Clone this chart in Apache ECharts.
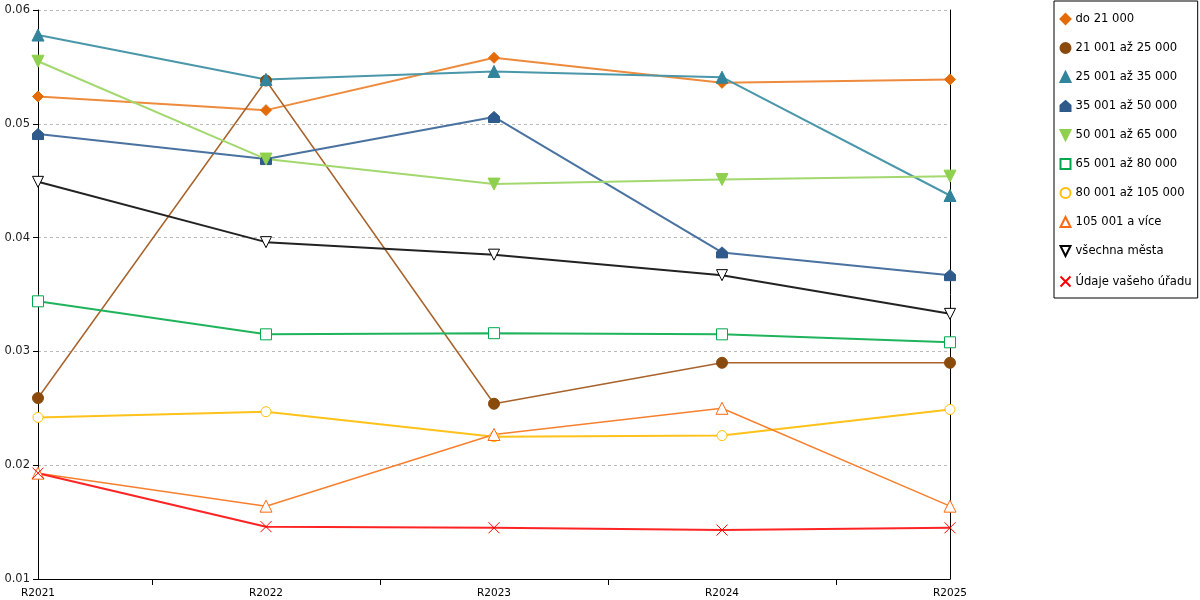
<!DOCTYPE html>
<html>
<head>
<meta charset="utf-8">
<script src="https://cdn.jsdelivr.net/npm/echarts@6/dist/echarts.min.js"></script>
<style>
  html, body { margin: 0; padding: 0; background: #fff; }
  #chart { width: 1200px; height: 600px; }
</style>
</head>
<body>
<div id="chart"></div>
<script>
var years = ['R2021', 'R2022', 'R2023', 'R2024', 'R2025'];
var midTicks = ['', '', '', '', '', '', '', '', ''];

var names = [
    'do 21 000',
    '21 001 až 25 000',
    '25 001 až 35 000',
    '35 001 až 50 000',
    '50 001 až 65 000',
    '65 001 až 80 000',
    '80 001 až 105 000',
    '105 001 a více',
    'všechna města',
    'Údaje vašeho úřadu'
];

var do21 = [0.0524, 0.0512, 0.0558, 0.0536, 0.0539];
var do25 = [0.0259, 0.0538, 0.0254, 0.0290, 0.0290];
var do35 = [0.0578, 0.0539, 0.0546, 0.0541, 0.0437];
var do50 = [0.0491, 0.0469, 0.0506, 0.0387, 0.0367];
var do65 = [0.0555, 0.0469, 0.0447, 0.0451, 0.0454];
var do80 = [0.0344, 0.0315, 0.0316, 0.0315, 0.0308];
var do105 = [0.0242, 0.0247, 0.0225, 0.0226, 0.0249];
var nad105 = [0.0193, 0.0164, 0.0227, 0.0250, 0.0164];
var vsechna = [0.0449, 0.0396, 0.0385, 0.0367, 0.0333];
var urad = [0.0193, 0.0146, 0.0145, 0.0143, 0.0145];

var downTri = 'path://M0,0L10,0L5,10Z';
var house = 'path://M5,0L10,4.5L10,10L0,10L0,4.5Z';
var cross = 'path://M0,0L10,10M10,0L0,10';

// symbol, fill, border, line colour, line width, size, values
var looks = [
    ['diamond', '#e36c09', '#e36c09', '#ee8a3c', 2, 11, do21],
    ['circle', '#8a4a0c', '#8a4a0c', '#a8622b', 1.5, 11, do25],
    ['triangle', '#31849b', '#31849b', '#4a97aa', 2, 12, do35],
    [house, '#2f5b8c', '#2f5b8c', '#4a72a0', 2, 11, do50],
    [downTri, '#8fd14f', '#8fd14f', '#a3d86f', 2, 12, do65],
    ['rect', '#fff', '#00a850', '#1fb35c', 2, 11, do80],
    ['circle', '#fff', '#ffc000', '#ffc21a', 2, 10, do105],
    ['triangle', '#fff', '#ff6a10', '#f7802e', 1.5, 12, nad105],
    [downTri, '#fff', '#000', '#222', 2, 11, vsechna],
    [cross, 'none', '#ff0000', '#ff2424', 2, 11, urad]
];

var series = looks.map(function (l, i) {
    return {
        name: names[i],
        type: 'line',
        data: l[6],
        symbol: l[0],
        symbolSize: l[5],
        showSymbol: true,
        itemStyle: {
            color: l[1],
            borderColor: l[2],
            borderWidth: 1
        },
        lineStyle: {
            color: l[3],
            width: l[4]
        },
        emphasis: { disabled: true }
    };
});

var chart = echarts.init(document.getElementById('chart'));
chart.setOption({
    animation: false,
    textStyle: { fontFamily: 'DejaVu Sans' },
    grid: { left: 38, right: 250, top: 10, bottom: 21, containLabel: false },
    legend: {
        orient: 'vertical',
        left: 1054,
        top: 1,
        padding: [12, 6, 9, 4],
        itemWidth: 10,
        itemHeight: 10,
        itemGap: 17,
        itemTextGap: 7,
        borderColor: '#000',
        borderWidth: 1,
        data: names.map(function (n, i) {
            return { name: n, icon: looks[i][0] };
        }),
        textStyle: { fontSize: 11.6, color: '#000', lineHeight: 12, fontFamily: 'DejaVu Sans' }
    },
    xAxis: [{
        type: 'category',
        data: years,
        boundaryGap: false,
        axisLine: { lineStyle: { color: '#000', width: 1 } },
        axisTick: { show: false },
        axisLabel: { fontSize: 10.5, color: '#000', margin: 9 },
        splitLine: { show: false }
    }, {
        type: 'category',
        data: midTicks,
        boundaryGap: false,
        position: 'bottom',
        axisLine: { show: false },
        axisTick: {
            show: true,
            length: 6,
            interval: function (index) { return index % 2 === 1; },
            lineStyle: { color: '#000' }
        },
        axisLabel: { show: false }
    }],
    yAxis: [{
        type: 'value',
        min: 0.01,
        max: 0.06,
        interval: 0.01,
        axisLine: { show: true, lineStyle: { color: '#000', width: 1 } },
        axisTick: { show: true, length: 5, lineStyle: { color: '#000' } },
        axisLabel: { fontSize: 11.5, color: '#222', margin: 8 },
        splitLine: { show: true, lineStyle: { color: '#bbb', type: [3, 3] } }
    }, {
        type: 'value',
        position: 'right',
        min: 0.01,
        max: 0.06,
        interval: 0.01,
        axisLine: { show: true, lineStyle: { color: '#000', width: 1 } },
        axisTick: { show: false },
        axisLabel: { show: false },
        splitLine: { show: false }
    }],
    series: series
});
</script>
</body>
</html>
